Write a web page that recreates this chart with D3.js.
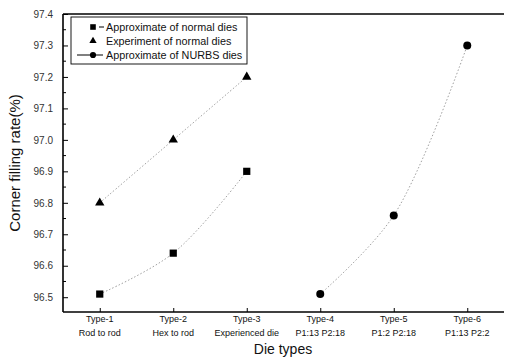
<!DOCTYPE html>
<html>
<head>
<meta charset="utf-8">
<script src="https://cdn.jsdelivr.net/npm/d3@7"></script>
<style>
  body { margin: 0; background: #fff; }
  svg { font-family: Arial, "Liberation Sans", sans-serif; }
</style>
</head>
<body>
<div id="chart"></div>
<script>
// data
const types = ["Type-1", "Type-2", "Type-3", "Type-4", "Type-5", "Type-6"];
const typeNames = ["Rod to rod", "Hex to rod", "Experienced die", "P1:13 P2:18", "P1:2 P2:18", "P1:13 P2:2"];
const approxNormal = [96.51, 96.64, 96.90];
const expNormal = [96.80, 97.00, 97.20];
const approxNurbs = [96.51, 96.76, 97.30];
const yTicks = [96.5, 96.6, 96.7, 96.8, 96.9, 97.0, 97.1, 97.2, 97.3, 97.4];
const legendLabels = ["Approximate of normal dies", "Experiment of normal dies", "Approximate of NURBS dies"];

const W = 505, H = 358;
const m = {left: 63, right: 1, top: 14, bottom: 46};

const svg = d3.select("#chart").append("svg").attr("width", W).attr("height", H);

const x = d3.scaleLinear().domain([0.5, 6.5]).range([m.left, W - m.right]);
const y = d3.scaleLinear().domain([96.453, 97.4]).range([H - m.bottom, m.top]);

// frame lines (left, bottom, top)
const g = svg.append("g");
g.append("line").attr("x1", m.left).attr("x2", W - m.right).attr("y1", H - m.bottom).attr("y2", H - m.bottom)
  .attr("stroke", "#000").attr("stroke-width", 1.6);
g.append("line").attr("x1", m.left).attr("x2", W - m.right).attr("y1", m.top).attr("y2", m.top)
  .attr("stroke", "#000").attr("stroke-width", 1.4);
g.append("line").attr("x1", m.left).attr("x2", m.left).attr("y1", m.top).attr("y2", H - m.bottom)
  .attr("stroke", "#000").attr("stroke-width", 1.6);

// y axis, ticks inward
const yAxis = d3.axisLeft(y).tickValues(yTicks).tickFormat(d3.format(".1f")).tickSizeInner(-5).tickSizeOuter(0).tickPadding(10);
const ya = svg.append("g").attr("transform", `translate(${m.left},0)`).call(yAxis);
ya.select(".domain").remove();
ya.selectAll("text").attr("font-size", 10).attr("fill", "#333");
// minor y ticks
svg.append("g").selectAll("line").data(yTicks.map(d => d + 0.05).filter(d => d < 97.4))
  .join("line").attr("x1", m.left).attr("x2", m.left + 3)
  .attr("y1", d => y(d)).attr("y2", d => y(d)).attr("stroke", "#000");

// x axis, ticks inward, two-line labels
const xAxis = d3.axisBottom(x).tickValues(d3.range(1, 7)).tickFormat("").tickSizeInner(-4).tickSizeOuter(0);
const xa = svg.append("g").attr("transform", `translate(0,${H - m.bottom})`).call(xAxis);
xa.select(".domain").remove();
const xl = svg.append("g").selectAll("text").data(types).join("text")
  .attr("x", (d, i) => x(i + 1)).attr("y", H - m.bottom + 10)
  .attr("text-anchor", "middle").attr("font-size", 9).attr("fill", "#111");
xl.append("tspan").attr("x", (d, i) => x(i + 1)).text(d => d);
xl.append("tspan").attr("x", (d, i) => x(i + 1)).attr("dy", 14).text((d, i) => typeNames[i]);

// axis titles
svg.append("text").attr("x", 283).attr("y", 354).attr("text-anchor", "middle")
  .attr("font-size", 14).attr("fill", "#111").text("Die types");
svg.append("text").attr("transform", `translate(20,${(m.top + H - m.bottom) / 2}) rotate(-90)`)
  .attr("text-anchor", "middle").attr("font-size", 15).attr("fill", "#111").text("Corner filling rate(%)");

// series lines
const line = d3.line().x(d => x(d[0])).y(d => y(d[1])).curve(d3.curveCatmullRom);
const seriesPts = [
  approxNormal.map((v, i) => [i + 1, v]),
  expNormal.map((v, i) => [i + 1, v]),
  approxNurbs.map((v, i) => [i + 4, v])
];
svg.append("g").selectAll("path").data(seriesPts).join("path")
  .attr("d", line).attr("fill", "none").attr("stroke", "#888").attr("stroke-width", 0.8)
  .attr("stroke-dasharray", "1.5,2");

// markers
const sym = [d3.symbolSquare, d3.symbolTriangle, d3.symbolCircle];
const symSize = [52, 38, 50];
seriesPts.forEach((pts, k) => {
  svg.append("g").selectAll("path").data(pts).join("path")
    .attr("transform", d => `translate(${x(d[0])},${y(d[1])})`)
    .attr("d", d3.symbol().type(sym[k]).size(symSize[k])).attr("fill", "#000");
});

// legend
const lg = svg.append("g").attr("transform", "translate(71,17)");
lg.append("rect").attr("width", 176).attr("height", 47).attr("fill", "#fff").attr("stroke", "#000").attr("stroke-width", 0.9);
legendLabels.forEach((t, i) => {
  const cy = 10 + i * 14;
  if (i === 0) lg.append("line").attr("x1", 28).attr("x2", 33).attr("y1", cy).attr("y2", cy).attr("stroke", "#000");
  if (i === 2) lg.append("line").attr("x1", 6).attr("x2", 32).attr("y1", cy).attr("y2", cy).attr("stroke", "#000");
  lg.append("path").attr("transform", `translate(22,${cy})`)
    .attr("d", d3.symbol().type(sym[i]).size(symSize[i] * 0.6)).attr("fill", "#000");
  lg.append("text").attr("x", 35).attr("y", cy + 3.5).attr("font-size", 10.8).attr("fill", "#111").text(t);
});
</script>
</body>
</html>
